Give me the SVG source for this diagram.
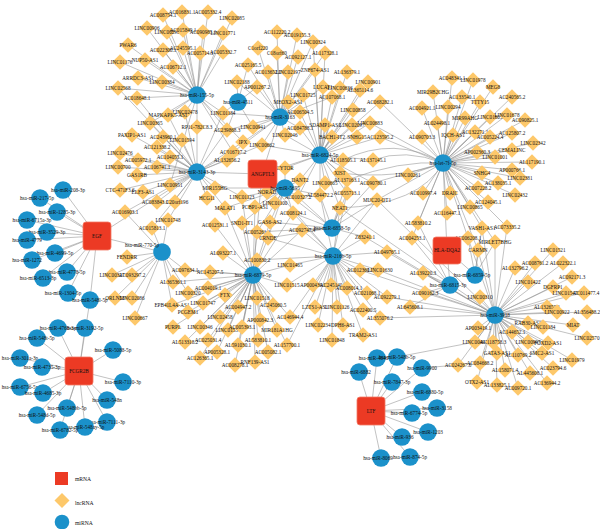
<svg xmlns="http://www.w3.org/2000/svg" xmlns:xlink="http://www.w3.org/1999/xlink" width="600" height="529" viewBox="0 0 600 529">
<style>
.e{stroke:#8f8f8f;stroke-width:0.55;fill:none;stroke-linecap:round}
text{font-family:"Liberation Serif","Times New Roman",serif;font-size:5.2px;fill:#111;text-anchor:middle}
.lg{text-anchor:start;font-size:5.6px}
.bx{fill:#EC3A24;stroke:#F47A66;stroke-width:0.8}
</style>
<defs>
<path id="dm" d="M0-7.8L7.8 0L0 7.8L-7.8 0Z" fill="#FDC86A"/>
<circle id="cm" r="8.8" fill="#1B91CA"/>
</defs>
<rect width="600" height="529" fill="#fff"/>
<g id="connectors" class="e">
<path d="M197 95L182 12M197 95L163 15M197 95L147 28M197 95L167 32M197 95L183 30M197 95L128 45M197 95L163 50M197 95L183 48M197 95L145 60M197 95L120 62M197 95L173 67M197 95L138 78M197 95L162 82M197 95L118 88M197 95L137 98M197 95L208 12M197 95L232 18M197 95L203 32M197 95L223 33M197 95L200 53M197 95L223 52M197 95L185 112M197 95L168 115M197 95L223 113M197 95L227 130M197 95L197 127M197 95L150 123M197 95L243 142M197 95L233 152M197 95L170 185"/>
<path d="M197 172L150 123M197 172L132 135M197 172L163 137M197 172L182 140M197 172L157 147M197 172L120 153M197 172L170 157M197 172L138 160M197 172L157 167M197 172L118 167M197 172L137 175M197 172L170 185M197 172L120 190M197 172L143 192M197 172L157 202M197 172L173 202M197 172L207 198M197 172L215 188M197 172L125 212M197 172L168 220M197 172L152 228M197 172L233 152M197 172L227 160M197 172L243 142M197 172L197 127M197 172L168 115M197 172L185 112M197 172L223 113M197 172L227 130M197 172L225 208M197 172L242 197M197 172L118 88M197 172L137 98M197 172L262 145M197 172L97 236M197 172L262 174"/>
<path d="M238 102L237 82M238 102L248 65M238 102L257 87M238 102L223 113M238 102L253 127M238 102L227 130"/>
<path d="M280 117L277 32M280 117L297 35M280 117L313 42M280 117L258 48M280 117L277 53M280 117L298 57M280 117L325 53M280 117L248 65M280 117L268 72M280 117L288 72M280 117L315 70M280 117L237 82M280 117L257 87M280 117L303 95M280 117L288 102M280 117L300 112M280 117L253 127M280 117L285 135M280 117L300 128M280 117L262 145M280 117L227 130M280 117L223 113M280 117L243 142M280 117L233 152M280 117L323 87M280 117L332 97M280 117L262 174"/>
<path d="M320 155L323 87M320 155L347 72M320 155L368 82M320 155L340 88M320 155L360 90M320 155L380 102M320 155L332 97M320 155L353 110M320 155L370 123M320 155L325 125M320 155L352 125M320 155L332 137M320 155L357 137M320 155L380 137M320 155L343 160M320 155L373 160M320 155L285 168M320 155L340 173M320 155L300 180M320 155L347 180M320 155L325 183M320 155L373 183M320 155L303 95M320 155L300 112M320 155L300 128M320 155L285 135M320 155L262 145M320 155L340 208M320 155L320 195M320 155L347 193M320 155L298 197M320 155L262 174M320 155L313 42M320 155L325 53M320 155L315 70"/>
<path d="M443 163L452 78M443 163L473 80M443 163L493 87M443 163L433 92M443 163L462 97M443 163L480 102M443 163L512 97M443 163L422 108M443 163L448 107M443 163L465 118M443 163L490 117M443 163L507 115M443 163L525 120M443 163L437 123M443 163L422 137M443 163L453 135M443 163L475 132M443 163L490 137M443 163L512 133M443 163L533 143M443 163L477 152M443 163L512 150M443 163L495 157M443 163L532 162M443 163L512 170M443 163L482 173M443 163L408 175M443 163L520 178M443 163L498 183M443 163L515 195M443 163L478 188M443 163L423 193M443 163L450 193M443 163L488 202M443 163L470 207M443 163L447 213M443 163L418 223M443 163L482 228M443 163L507 227M443 163L412 238M443 163L468 238M443 163L495 242M443 163L478 250M443 163L447 250M443 163L380 137M443 163L380 102M443 163L370 123M443 163L373 183M443 163L377 200"/>
<path d="M443 163Q395 135 343 160M443 163Q405 148 373 160M443 163Q398 180 340 173M443 163Q400 160 347 180M443 163Q420 205 340 208"/>
<path d="M285 188L267 192M285 188L242 197M285 188L255 207M285 188L275 203M285 188L298 197M285 188L293 213M285 188L270 222M285 188L300 180M285 188L285 168M285 188L257 232M285 188L268 238M285 188L215 188M285 188L225 208M285 188L242 223M285 188L320 195M285 188L262 174"/>
<path d="M332 228L320 195M332 228L347 193M332 228L377 200M332 228L340 208M332 228L302 230M332 228L365 237M332 228L293 213M332 228L270 222M332 228L268 238M332 228L298 197M332 228L257 232M332 228L347 180M332 228L373 183M332 228L262 174"/>
<path d="M333 256L387 252M333 256L290 265M333 256L360 270M333 256L378 270M333 256L287 285M333 256L315 285M333 256L330 285M333 256L347 288M333 256L367 293M333 256L387 297M333 256L315 307M333 256L337 307M333 256L363 310M333 256L380 318M333 256L318 325M333 256L343 325M333 256L332 340M333 256L363 335M333 256L302 230M333 256L365 237M333 256L340 208M333 256L320 195M333 256L347 193M333 256L377 200M333 256L293 213M333 256L268 238M333 256L257 260M333 256L262 174M333 256L290 317M333 256L287 345"/>
<path d="M253 275L242 223M253 275L215 225M253 275L257 232M253 275L268 238M253 275L223 253M253 275L257 260M253 275L210 272M253 275L173 282M253 275L185 270M253 275L188 293M253 275L208 288M253 275L225 295M253 275L172 305M253 275L188 312M253 275L203 303M253 275L238 307M253 275L257 298M253 275L273 305M253 275L173 327M253 275L200 327M253 275L220 317M253 275L228 330M253 275L242 327M253 275L260 320M253 275L277 330M253 275L290 317M253 275L258 340M253 275L185 342M253 275L208 340M253 275L238 345M253 275L287 345M253 275L217 352M253 275L268 352M253 275L200 358M253 275L235 365M253 275L255 362M253 275L290 265M253 275L287 285M253 275L302 230M253 275L270 222M253 275L225 208M253 275L255 207M253 275L262 174M253 275L293 213M253 275L242 197"/>
<path d="M162 252L127 257M162 252L112 275M162 252L132 275M162 252L115 298M162 252L132 298M162 252L135 318M162 252L173 282M162 252L185 270M162 252L152 228M162 252L168 220M162 252L125 212M162 252L172 305M162 252L188 293M162 252L97 236"/>
<path d="M475 275L447 250M475 275L478 250M475 275L495 242M475 275L468 238M475 275L482 228M450 285L447 250M450 285L423 273M450 285L412 238M450 285L418 223M450 285L410 307M450 285L425 293"/>
<path d="M495 315L553 250M495 315L563 263M495 315L535 263M495 315L515 268M495 315L572 277M495 315L528 282M495 315L553 287M495 315L567 293M495 315L582 293M495 315L480 297M495 315L410 307M495 315L547 307M495 315L557 312M495 315L587 312M495 315L478 328M495 315L528 323M495 315L543 327M495 315L573 325M495 315L512 332M495 315L475 342M495 315L493 342M495 315L528 342M495 315L548 343M495 315L587 338M495 315L497 353M495 315L518 355M495 315L542 353M495 315L572 360M495 315L458 365M495 315L480 363M495 315L505 370M495 315L530 373M495 315L553 368M495 315L477 382M495 315L497 385M495 315L518 388M495 315L547 383M495 315L423 273M495 315L425 293M495 315L478 250M495 315L495 242M495 315L482 228M495 315L507 227M495 315L468 238M495 315L387 297M495 315L380 318M495 315L387 252M495 315L378 270M495 315L360 270M495 315L340 208M495 315L377 200M495 315L365 237"/>
<path d="M371 411L359 372M371 411L377 358M371 411L397 357M371 411L392 382M371 411L422 368M371 411L422 392M371 411L437 408M371 411L412 413M371 411L428 432M371 411L402 437M371 411L410 457M371 411L381 458M397 357L475 342M422 368L458 365"/>
<path d="M97 236L63 190M97 236L40 198M97 236L57 212M97 236L27 220M97 236L47 232M97 236L27 240M97 236L55 253M97 236L32 260M97 236L67 272M97 236L43 278M97 236L68 293M97 236L90 300"/>
<path d="M79 371L90 300M79 371L85 328M79 371L58 328M79 371L37 338M79 371L113 350M79 371L20 358M79 371L42 367M79 371L123 382M79 371L20 387M79 371L43 393M79 371L107 400M79 371L67 408M79 371L37 415M79 371L107 422M79 371L85 427M79 371L60 430"/>
</g>
<g id="lncRNA-nodes">
<g id="AC016831.1"><use href="#dm" x="182" y="12"/><text x="182" y="14">AC016831.1</text></g>
<g id="AC008754.1"><use href="#dm" x="163" y="15"/><text x="163" y="17">AC008754.1</text></g>
<g id="LINC00906"><use href="#dm" x="147" y="28"/><text x="147" y="30">LINC00906</text></g>
<g id="LINC00290"><use href="#dm" x="167" y="32"/><text x="167" y="34">LINC00290</text></g>
<g id="AC015849.1"><use href="#dm" x="183" y="30"/><text x="183" y="32">AC015849.1</text></g>
<g id="PWAR6"><use href="#dm" x="128" y="45"/><text x="128" y="47">PWAR6</text></g>
<g id="AC022306.1"><use href="#dm" x="163" y="50"/><text x="163" y="52">AC022306.1</text></g>
<g id="AC245595.1"><use href="#dm" x="183" y="48"/><text x="183" y="50">AC245595.1</text></g>
<g id="NUP50-AS1"><use href="#dm" x="145" y="60"/><text x="145" y="62">NUP50-AS1</text></g>
<g id="LINC01176"><use href="#dm" x="120" y="62"/><text x="120" y="64">LINC01176</text></g>
<g id="AC106712.1"><use href="#dm" x="173" y="67"/><text x="173" y="69">AC106712.1</text></g>
<g id="ARRDC3-AS1"><use href="#dm" x="138" y="78"/><text x="138" y="80">ARRDC3-AS1</text></g>
<g id="LINC00384"><use href="#dm" x="162" y="82"/><text x="162" y="84">LINC00384</text></g>
<g id="LINC02568"><use href="#dm" x="118" y="88"/><text x="118" y="90">LINC02568</text></g>
<g id="AC018648.1"><use href="#dm" x="137" y="98"/><text x="137" y="100">AC018648.1</text></g>
<g id="AC005332.4"><use href="#dm" x="208" y="12"/><text x="208" y="14">AC005332.4</text></g>
<g id="LINC02085"><use href="#dm" x="232" y="18"/><text x="232" y="20">LINC02085</text></g>
<g id="AC090985.1"><use href="#dm" x="203" y="32"/><text x="203" y="34">AC090985.1</text></g>
<g id="LINC01771"><use href="#dm" x="223" y="33"/><text x="223" y="35">LINC01771</text></g>
<g id="AC005714.1"><use href="#dm" x="200" y="53"/><text x="200" y="55">AC005714.1</text></g>
<g id="AC005332.7"><use href="#dm" x="223" y="52"/><text x="223" y="54">AC005332.7</text></g>
<g id="LINC02478"><use href="#dm" x="185" y="112"/><text x="185" y="114">LINC02478</text></g>
<g id="MAPKAPK5-AS1"><use href="#dm" x="168" y="115"/><text x="168" y="117">MAPKAPK5-AS1</text></g>
<g id="LINC01184"><use href="#dm" x="223" y="113"/><text x="223" y="115">LINC01184</text></g>
<g id="AC239868.3"><use href="#dm" x="227" y="130"/><text x="227" y="132">AC239868.3</text></g>
<g id="RP11-782C8.3"><use href="#dm" x="197" y="127"/><text x="197" y="129">RP11-782C8.3</text></g>
<g id="LINC00365"><use href="#dm" x="150" y="123"/><text x="150" y="125">LINC00365</text></g>
<g id="PAXIP1-AS1"><use href="#dm" x="132" y="135"/><text x="132" y="137">PAXIP1-AS1</text></g>
<g id="AC243960.1"><use href="#dm" x="163" y="137"/><text x="163" y="139">AC243960.1</text></g>
<g id="LINC01594"><use href="#dm" x="182" y="140"/><text x="182" y="142">LINC01594</text></g>
<g id="AC121338.2"><use href="#dm" x="157" y="147"/><text x="157" y="149">AC121338.2</text></g>
<g id="LINC02476"><use href="#dm" x="120" y="153"/><text x="120" y="155">LINC02476</text></g>
<g id="AC104055.1"><use href="#dm" x="170" y="157"/><text x="170" y="159">AC104055.1</text></g>
<g id="AC005972.1"><use href="#dm" x="138" y="160"/><text x="138" y="162">AC005972.1</text></g>
<g id="AC106741.1"><use href="#dm" x="157" y="167"/><text x="157" y="169">AC106741.1</text></g>
<g id="LINC00700"><use href="#dm" x="118" y="167"/><text x="118" y="169">LINC00700</text></g>
<g id="GAS1RB"><use href="#dm" x="137" y="175"/><text x="137" y="177">GAS1RB</text></g>
<g id="LINC00951"><use href="#dm" x="170" y="185"/><text x="170" y="187">LINC00951</text></g>
<g id="CTC-471F3.6"><use href="#dm" x="120" y="190"/><text x="120" y="192">CTC-471F3.6</text></g>
<g id="ELF3-AS1"><use href="#dm" x="143" y="192"/><text x="143" y="194">ELF3-AS1</text></g>
<g id="AC083843.1"><use href="#dm" x="157" y="202"/><text x="155" y="204">AC083843.1</text></g>
<g id="C20orf196"><use href="#dm" x="175" y="202"/><text x="177" y="204">C20orf196</text></g>
<g id="HCG11"><use href="#dm" x="207" y="198"/><text x="207" y="200">HCG11</text></g>
<g id="MIR155HG"><use href="#dm" x="215" y="188"/><text x="215" y="190">MIR155HG</text></g>
<g id="AC016903.1"><use href="#dm" x="125" y="212"/><text x="125" y="214">AC016903.1</text></g>
<g id="LINC01748"><use href="#dm" x="168" y="220"/><text x="168" y="222">LINC01748</text></g>
<g id="AC015813.1"><use href="#dm" x="152" y="228"/><text x="152" y="230">AC015813.1</text></g>
<g id="AC016717.2"><use href="#dm" x="233" y="152"/><text x="233" y="154">AC016717.2</text></g>
<g id="AL132656.2"><use href="#dm" x="227" y="160"/><text x="227" y="162">AL132656.2</text></g>
<g id="IPX"><use href="#dm" x="243" y="142"/><text x="243" y="144">IPX</text></g>
<g id="AC112220.2"><use href="#dm" x="277" y="32"/><text x="277" y="34">AC112220.2</text></g>
<g id="AC019155.3"><use href="#dm" x="297" y="35"/><text x="297" y="37">AC019155.3</text></g>
<g id="LINC00324"><use href="#dm" x="313" y="42"/><text x="313" y="44">LINC00324</text></g>
<g id="C1orf220"><use href="#dm" x="258" y="48"/><text x="258" y="50">C1orf220</text></g>
<g id="C18orf60"><use href="#dm" x="277" y="53"/><text x="277" y="55">C18orf60</text></g>
<g id="AC092127.1"><use href="#dm" x="298" y="57"/><text x="298" y="59">AC092127.1</text></g>
<g id="AL117328.1"><use href="#dm" x="325" y="53"/><text x="325" y="55">AL117328.1</text></g>
<g id="AC025165.5"><use href="#dm" x="248" y="65"/><text x="248" y="67">AC025165.5</text></g>
<g id="AC013652.1"><use href="#dm" x="268" y="72"/><text x="268" y="74">AC013652.1</text></g>
<g id="LINC02197"><use href="#dm" x="288" y="72"/><text x="288" y="74">LINC02197</text></g>
<g id="ZNF674-AS1"><use href="#dm" x="315" y="70"/><text x="315" y="72">ZNF674-AS1</text></g>
<g id="LINC02188"><use href="#dm" x="237" y="82"/><text x="237" y="84">LINC02188</text></g>
<g id="AP001267.2"><use href="#dm" x="257" y="87"/><text x="257" y="89">AP001267.2</text></g>
<g id="LINC01725"><use href="#dm" x="303" y="95"/><text x="303" y="97">LINC01725</text></g>
<g id="MEOX2-AS1"><use href="#dm" x="288" y="102"/><text x="288" y="104">MEOX2-AS1</text></g>
<g id="AC006504.5"><use href="#dm" x="300" y="112"/><text x="300" y="114">AC006504.5</text></g>
<g id="LINC00941"><use href="#dm" x="253" y="127"/><text x="253" y="129">LINC00941</text></g>
<g id="LINC02046"><use href="#dm" x="285" y="135"/><text x="285" y="137">LINC02046</text></g>
<g id="AC084788.1"><use href="#dm" x="300" y="128"/><text x="300" y="130">AC084788.1</text></g>
<g id="LINC00662"><use href="#dm" x="262" y="145"/><text x="262" y="147">LINC00662</text></g>
<g id="LUCAT1"><use href="#dm" x="323" y="87"/><text x="323" y="89">LUCAT1</text></g>
<g id="AL136379.1"><use href="#dm" x="347" y="72"/><text x="347" y="74">AL136379.1</text></g>
<g id="LINC00901"><use href="#dm" x="368" y="82"/><text x="368" y="84">LINC00901</text></g>
<g id="LINC00636"><use href="#dm" x="340" y="88"/><text x="340" y="90">LINC00636</text></g>
<g id="AL365114.6"><use href="#dm" x="360" y="90"/><text x="360" y="92">AL365114.6</text></g>
<g id="AC068282.1"><use href="#dm" x="380" y="102"/><text x="380" y="104">AC068282.1</text></g>
<g id="AC107068.1"><use href="#dm" x="332" y="97"/><text x="332" y="99">AC107068.1</text></g>
<g id="LINC00858"><use href="#dm" x="353" y="110"/><text x="353" y="112">LINC00858</text></g>
<g id="LINC00683"><use href="#dm" x="370" y="123"/><text x="370" y="125">LINC00683</text></g>
<g id="SDAMP1-AS1"><use href="#dm" x="325" y="125"/><text x="325" y="127">SDAMP1-AS1</text></g>
<g id="LINC02097"><use href="#dm" x="352" y="125"/><text x="352" y="127">LINC02097</text></g>
<g id="BACH1-IT2"><use href="#dm" x="332" y="137"/><text x="332" y="139">BACH1-IT2</text></g>
<g id="SNHG15"><use href="#dm" x="357" y="137"/><text x="357" y="139">SNHG15</text></g>
<g id="AC123595.2"><use href="#dm" x="380" y="137"/><text x="380" y="139">AC123595.2</text></g>
<g id="AL118505.1"><use href="#dm" x="343" y="160"/><text x="343" y="162">AL118505.1</text></g>
<g id="AL137145.1"><use href="#dm" x="373" y="160"/><text x="373" y="162">AL137145.1</text></g>
<g id="CYTOR"><use href="#dm" x="285" y="168"/><text x="285" y="170">CYTOR</text></g>
<g id="XIST"><use href="#dm" x="340" y="173"/><text x="340" y="175">XIST</text></g>
<g id="DANT2"><use href="#dm" x="300" y="180"/><text x="300" y="182">DANT2</text></g>
<g id="AL137163.1"><use href="#dm" x="347" y="180"/><text x="347" y="182">AL137163.1</text></g>
<g id="LINC00665"><use href="#dm" x="325" y="183"/><text x="325" y="185">LINC00665</text></g>
<g id="AC090780.1"><use href="#dm" x="373" y="183"/><text x="373" y="185">AC090780.1</text></g>
<g id="NORAD"><use href="#dm" x="267" y="192"/><text x="267" y="194">NORAD</text></g>
<g id="LINC01123"><use href="#dm" x="242" y="197"/><text x="242" y="199">LINC01123</text></g>
<g id="PCBP1-AS1"><use href="#dm" x="255" y="207"/><text x="255" y="209">PCBP1-AS1</text></g>
<g id="LINC01100"><use href="#dm" x="275" y="203"/><text x="275" y="205">LINC01100</text></g>
<g id="AC010327.2"><use href="#dm" x="298" y="197"/><text x="298" y="199">AC010327.2</text></g>
<g id="AC008124.1"><use href="#dm" x="293" y="213"/><text x="293" y="215">AC008124.1</text></g>
<g id="GAS6-AS2"><use href="#dm" x="270" y="222"/><text x="270" y="224">GAS6-AS2</text></g>
<g id="MALAT1"><use href="#dm" x="225" y="208"/><text x="225" y="210">MALAT1</text></g>
<g id="AL584472.2"><use href="#dm" x="320" y="195"/><text x="320" y="197">AL584472.2</text></g>
<g id="AC055713.1"><use href="#dm" x="347" y="193"/><text x="347" y="195">AC055713.1</text></g>
<g id="MUC20-OT1"><use href="#dm" x="377" y="200"/><text x="377" y="202">MUC20-OT1</text></g>
<g id="NEAT1"><use href="#dm" x="340" y="208"/><text x="340" y="210">NEAT1</text></g>
<g id="AC092747.4"><use href="#dm" x="302" y="230"/><text x="302" y="232">AC092747.4</text></g>
<g id="Z83241.1"><use href="#dm" x="365" y="237"/><text x="365" y="239">Z83241.1</text></g>
<g id="AL049765.1"><use href="#dm" x="387" y="252"/><text x="387" y="254">AL049765.1</text></g>
<g id="LINC01465"><use href="#dm" x="290" y="265"/><text x="290" y="267">LINC01465</text></g>
<g id="AC012360.3"><use href="#dm" x="360" y="270"/><text x="360" y="272">AC012360.3</text></g>
<g id="LINC01630"><use href="#dm" x="378" y="270"/><text x="380" y="272">LINC01630</text></g>
<g id="LINC01515"><use href="#dm" x="287" y="285"/><text x="287" y="287">LINC01515</text></g>
<g id="AP000439.3"><use href="#dm" x="313" y="285"/><text x="313" y="287">AP000439.3</text></g>
<g id="AC245140.1"><use href="#dm" x="331" y="285"/><text x="333" y="287">AC245140.1</text></g>
<g id="AC008014.1"><use href="#dm" x="347" y="288"/><text x="349" y="290">AC008014.1</text></g>
<g id="AC021068.1"><use href="#dm" x="367" y="293"/><text x="367" y="295">AC021068.1</text></g>
<g id="AC092279.1"><use href="#dm" x="387" y="297"/><text x="387" y="299">AC092279.1</text></g>
<g id="LZTS1-AS1"><use href="#dm" x="315" y="307"/><text x="315" y="309">LZTS1-AS1</text></g>
<g id="LINC01126"><use href="#dm" x="337" y="307"/><text x="337" y="309">LINC01126</text></g>
<g id="AC022400.5"><use href="#dm" x="363" y="310"/><text x="363" y="312">AC022400.5</text></g>
<g id="AL355076.2"><use href="#dm" x="380" y="318"/><text x="380" y="320">AL355076.2</text></g>
<g id="LINC02234"><use href="#dm" x="318" y="325"/><text x="318" y="327">LINC02234</text></g>
<g id="DPH6-AS1"><use href="#dm" x="343" y="325"/><text x="343" y="327">DPH6-AS1</text></g>
<g id="TRAM2-AS1"><use href="#dm" x="363" y="335"/><text x="363" y="337">TRAM2-AS1</text></g>
<g id="LINC01848"><use href="#dm" x="332" y="340"/><text x="332" y="342">LINC01848</text></g>
<g id="SND1-IT1"><use href="#dm" x="242" y="223"/><text x="242" y="225">SND1-IT1</text></g>
<g id="AC012531.1"><use href="#dm" x="215" y="225"/><text x="215" y="227">AC012531.1</text></g>
<g id="AC005261.1"><use href="#dm" x="257" y="232"/><text x="257" y="234">AC005261.1</text></g>
<g id="CRNDE"><use href="#dm" x="268" y="238"/><text x="268" y="240">CRNDE</text></g>
<g id="AL093227.1"><use href="#dm" x="223" y="253"/><text x="223" y="255">AL093227.1</text></g>
<g id="AC100830.2"><use href="#dm" x="257" y="260"/><text x="257" y="262">AC100830.2</text></g>
<g id="AC145207.5"><use href="#dm" x="210" y="272"/><text x="210" y="274">AC145207.5</text></g>
<g id="AL365361.1"><use href="#dm" x="173" y="282"/><text x="173" y="284">AL365361.1</text></g>
<g id="AC097634.1"><use href="#dm" x="185" y="270"/><text x="185" y="272">AC097634.1</text></g>
<g id="LINC00320"><use href="#dm" x="188" y="293"/><text x="188" y="295">LINC00320</text></g>
<g id="AC004019.1"><use href="#dm" x="208" y="288"/><text x="208" y="290">AC004019.1</text></g>
<g id="FTX"><use href="#dm" x="225" y="295"/><text x="225" y="297">FTX</text></g>
<g id="EPB41L4A-AS1"><use href="#dm" x="172" y="305"/><text x="172" y="307">EPB41L4A-AS1</text></g>
<g id="PCGEM1"><use href="#dm" x="188" y="312"/><text x="188" y="314">PCGEM1</text></g>
<g id="LINC01747"><use href="#dm" x="203" y="303"/><text x="203" y="305">LINC01747</text></g>
<g id="AC004947.2"><use href="#dm" x="238" y="307"/><text x="238" y="309">AC004947.2</text></g>
<g id="LINC01518"><use href="#dm" x="257" y="298"/><text x="257" y="300">LINC01518</text></g>
<g id="AC245060.5"><use href="#dm" x="273" y="305"/><text x="273" y="307">AC245060.5</text></g>
<g id="PURPL"><use href="#dm" x="173" y="327"/><text x="173" y="329">PURPL</text></g>
<g id="LINC00346"><use href="#dm" x="200" y="327"/><text x="200" y="329">LINC00346</text></g>
<g id="LINC02458"><use href="#dm" x="220" y="317"/><text x="220" y="319">LINC02458</text></g>
<g id="LINC01537"><use href="#dm" x="228" y="330"/><text x="228" y="332">LINC01537</text></g>
<g id="AC005393.1"><use href="#dm" x="242" y="327"/><text x="242" y="329">AC005393.1</text></g>
<g id="AP000842.3"><use href="#dm" x="260" y="320"/><text x="260" y="322">AP000842.3</text></g>
<g id="MIR181A1HG"><use href="#dm" x="277" y="330"/><text x="277" y="332">MIR181A1HG</text></g>
<g id="AC146944.4"><use href="#dm" x="290" y="317"/><text x="290" y="319">AC146944.4</text></g>
<g id="AL583810.1"><use href="#dm" x="258" y="340"/><text x="258" y="342">AL583810.1</text></g>
<g id="AL513318.2"><use href="#dm" x="185" y="342"/><text x="185" y="344">AL513318.2</text></g>
<g id="AC025031.4"><use href="#dm" x="208" y="340"/><text x="208" y="342">AC025031.4</text></g>
<g id="AL591030.1"><use href="#dm" x="238" y="345"/><text x="238" y="347">AL591030.1</text></g>
<g id="AL157700.1"><use href="#dm" x="287" y="345"/><text x="287" y="347">AL157700.1</text></g>
<g id="AP005328.1"><use href="#dm" x="217" y="352"/><text x="217" y="354">AP005328.1</text></g>
<g id="AC005082.1"><use href="#dm" x="268" y="352"/><text x="268" y="354">AC005082.1</text></g>
<g id="AC126365.1"><use href="#dm" x="200" y="358"/><text x="200" y="360">AC126365.1</text></g>
<g id="AC008278.1"><use href="#dm" x="235" y="365"/><text x="235" y="367">AC008278.1</text></g>
<g id="RNF139-AS1"><use href="#dm" x="255" y="362"/><text x="255" y="364">RNF139-AS1</text></g>
<g id="FENDRR"><use href="#dm" x="127" y="257"/><text x="127" y="259">FENDRR</text></g>
<g id="LINC00327"><use href="#dm" x="112" y="275"/><text x="112" y="277">LINC00327</text></g>
<g id="AC093297.2"><use href="#dm" x="132" y="275"/><text x="132" y="277">AC093297.2</text></g>
<g id="ORLN58"><use href="#dm" x="115" y="298"/><text x="115" y="300">ORLN58</text></g>
<g id="LINC02086"><use href="#dm" x="132" y="298"/><text x="132" y="300">LINC02086</text></g>
<g id="LINC00667"><use href="#dm" x="135" y="318"/><text x="135" y="320">LINC00667</text></g>
<g id="AC048341.1"><use href="#dm" x="452" y="78"/><text x="452" y="80">AC048341.1</text></g>
<g id="LINC01978"><use href="#dm" x="473" y="80"/><text x="473" y="82">LINC01978</text></g>
<g id="MEG8"><use href="#dm" x="493" y="87"/><text x="493" y="89">MEG8</text></g>
<g id="MIR29B2CHG"><use href="#dm" x="433" y="92"/><text x="433" y="94">MIR29B2CHG</text></g>
<g id="AC133540.1"><use href="#dm" x="462" y="97"/><text x="462" y="99">AC133540.1</text></g>
<g id="TTTY15"><use href="#dm" x="480" y="102"/><text x="480" y="104">TTTY15</text></g>
<g id="AC240565.2"><use href="#dm" x="512" y="97"/><text x="512" y="99">AC240565.2</text></g>
<g id="AC004921.1"><use href="#dm" x="422" y="108"/><text x="422" y="110">AC004921.1</text></g>
<g id="LINC00294"><use href="#dm" x="448" y="107"/><text x="448" y="109">LINC00294</text></g>
<g id="MIR99AHG"><use href="#dm" x="465" y="118"/><text x="465" y="120">MIR99AHG</text></g>
<g id="LINC01605"><use href="#dm" x="490" y="117"/><text x="490" y="119">LINC01605</text></g>
<g id="LINC01678"><use href="#dm" x="507" y="115"/><text x="507" y="117">LINC01678</text></g>
<g id="AC090825.1"><use href="#dm" x="525" y="120"/><text x="525" y="122">AC090825.1</text></g>
<g id="AL024498.1"><use href="#dm" x="437" y="123"/><text x="437" y="125">AL024498.1</text></g>
<g id="AL090703.3"><use href="#dm" x="422" y="137"/><text x="422" y="139">AL090703.3</text></g>
<g id="IQCH-AS1"><use href="#dm" x="453" y="135"/><text x="453" y="137">IQCH-AS1</text></g>
<g id="AC132271.1"><use href="#dm" x="475" y="132"/><text x="475" y="134">AC132271.1</text></g>
<g id="AC005224.4"><use href="#dm" x="490" y="137"/><text x="490" y="139">AC005224.4</text></g>
<g id="AC125807.2"><use href="#dm" x="512" y="133"/><text x="512" y="135">AC125807.2</text></g>
<g id="LINC02342"><use href="#dm" x="533" y="143"/><text x="533" y="145">LINC02342</text></g>
<g id="AP002360.3"><use href="#dm" x="477" y="152"/><text x="477" y="154">AP002360.3</text></g>
<g id="CEMALINC"><use href="#dm" x="512" y="150"/><text x="512" y="152">CEMALINC</text></g>
<g id="LINC01001"><use href="#dm" x="495" y="157"/><text x="495" y="159">LINC01001</text></g>
<g id="AL117190.1"><use href="#dm" x="532" y="162"/><text x="532" y="164">AL117190.1</text></g>
<g id="AP000766.1"><use href="#dm" x="512" y="170"/><text x="512" y="172">AP000766.1</text></g>
<g id="SNHG4"><use href="#dm" x="482" y="173"/><text x="482" y="175">SNHG4</text></g>
<g id="LINC00261"><use href="#dm" x="408" y="175"/><text x="408" y="177">LINC00261</text></g>
<g id="LINC02381"><use href="#dm" x="520" y="178"/><text x="520" y="180">LINC02381</text></g>
<g id="AC138035.1"><use href="#dm" x="498" y="183"/><text x="498" y="185">AC138035.1</text></g>
<g id="LINC02432"><use href="#dm" x="515" y="195"/><text x="515" y="197">LINC02432</text></g>
<g id="AC007228.2"><use href="#dm" x="478" y="188"/><text x="478" y="190">AC007228.2</text></g>
<g id="AC010997.4"><use href="#dm" x="423" y="193"/><text x="423" y="195">AC010997.4</text></g>
<g id="DRAIC"><use href="#dm" x="450" y="193"/><text x="450" y="195">DRAIC</text></g>
<g id="AC124045.1"><use href="#dm" x="488" y="202"/><text x="488" y="204">AC124045.1</text></g>
<g id="LINC00865"><use href="#dm" x="470" y="207"/><text x="470" y="209">LINC00865</text></g>
<g id="AC116447.1"><use href="#dm" x="447" y="213"/><text x="447" y="215">AC116447.1</text></g>
<g id="AL583810.2"><use href="#dm" x="418" y="223"/><text x="418" y="225">AL583810.2</text></g>
<g id="VASH1-AS1"><use href="#dm" x="482" y="228"/><text x="482" y="230">VASH1-AS1</text></g>
<g id="AC073335.2"><use href="#dm" x="507" y="227"/><text x="507" y="229">AC073335.2</text></g>
<g id="AC004253.1"><use href="#dm" x="412" y="238"/><text x="412" y="240">AC004253.1</text></g>
<g id="AC006208.1"><use href="#dm" x="468" y="238"/><text x="468" y="240">AC006208.1</text></g>
<g id="MIRLET7BHG"><use href="#dm" x="495" y="242"/><text x="495" y="244">MIRLET7BHG</text></g>
<g id="CARMN"><use href="#dm" x="478" y="250"/><text x="478" y="252">CARMN</text></g>
<g id="LINC01521"><use href="#dm" x="553" y="250"/><text x="553" y="252">LINC01521</text></g>
<g id="AL022322.1"><use href="#dm" x="563" y="263"/><text x="563" y="265">AL022322.1</text></g>
<g id="AC008761.2"><use href="#dm" x="535" y="263"/><text x="535" y="265">AC008761.2</text></g>
<g id="AL132796.2"><use href="#dm" x="515" y="268"/><text x="515" y="270">AL132796.2</text></g>
<g id="AC092171.3"><use href="#dm" x="572" y="277"/><text x="572" y="279">AC092171.3</text></g>
<g id="LINC01422"><use href="#dm" x="528" y="282"/><text x="528" y="284">LINC01422</text></g>
<g id="DGFRP1"><use href="#dm" x="553" y="287"/><text x="553" y="289">DGFRP1</text></g>
<g id="LINC01547"><use href="#dm" x="566" y="293"/><text x="565" y="295">LINC01547</text></g>
<g id="AC011477.4"><use href="#dm" x="584" y="293"/><text x="586" y="295">AC011477.4</text></g>
<g id="LINC00310"><use href="#dm" x="480" y="297"/><text x="480" y="299">LINC00310</text></g>
<g id="AL645608.1"><use href="#dm" x="410" y="307"/><text x="410" y="309">AL645608.1</text></g>
<g id="AL132655.1"><use href="#dm" x="547" y="307"/><text x="547" y="309">AL132655.1</text></g>
<g id="LINC00922"><use href="#dm" x="557" y="312"/><text x="557" y="314">LINC00922</text></g>
<g id="AL356488.2"><use href="#dm" x="587" y="312"/><text x="587" y="314">AL356488.2</text></g>
<g id="AP003419.1"><use href="#dm" x="478" y="328"/><text x="478" y="330">AP003419.1</text></g>
<g id="RAB30-AS1"><use href="#dm" x="528" y="323"/><text x="528" y="325">RAB30-AS1</text></g>
<g id="LINC01184b"><use href="#dm" x="543" y="327"/><text x="543" y="329">LINC01184</text></g>
<g id="MIAT"><use href="#dm" x="573" y="325"/><text x="573" y="327">MIAT</text></g>
<g id="AC144652.1"><use href="#dm" x="512" y="332"/><text x="512" y="334">AC144652.1</text></g>
<g id="LINC00494"><use href="#dm" x="475" y="342"/><text x="475" y="344">LINC00494</text></g>
<g id="AC118758.3"><use href="#dm" x="493" y="342"/><text x="493" y="344">AC118758.3</text></g>
<g id="LINC00997"><use href="#dm" x="528" y="342"/><text x="528" y="344">LINC00997</text></g>
<g id="FOXD2-AS1"><use href="#dm" x="548" y="343"/><text x="548" y="345">FOXD2-AS1</text></g>
<g id="LINC02570"><use href="#dm" x="587" y="338"/><text x="587" y="340">LINC02570</text></g>
<g id="GATA3-AS1"><use href="#dm" x="497" y="353"/><text x="497" y="355">GATA3-AS1</text></g>
<g id="AC110769.2"><use href="#dm" x="518" y="355"/><text x="518" y="357">AC110769.2</text></g>
<g id="SMC2-AS1"><use href="#dm" x="542" y="353"/><text x="542" y="355">SMC2-AS1</text></g>
<g id="LINC01979"><use href="#dm" x="572" y="360"/><text x="572" y="362">LINC01979</text></g>
<g id="AC024267.6"><use href="#dm" x="458" y="365"/><text x="458" y="367">AC024267.6</text></g>
<g id="AC084668.2"><use href="#dm" x="480" y="363"/><text x="480" y="365">AC084668.2</text></g>
<g id="AL158071.4"><use href="#dm" x="505" y="370"/><text x="505" y="372">AL158071.4</text></g>
<g id="AL445608.1"><use href="#dm" x="530" y="373"/><text x="530" y="375">AL445608.1</text></g>
<g id="AC023794.6"><use href="#dm" x="553" y="368"/><text x="553" y="370">AC023794.6</text></g>
<g id="OTX2-AS1"><use href="#dm" x="477" y="382"/><text x="477" y="384">OTX2-AS1</text></g>
<g id="AL133825.1"><use href="#dm" x="497" y="385"/><text x="497" y="387">AL133825.1</text></g>
<g id="AC009720.1"><use href="#dm" x="518" y="388"/><text x="518" y="390">AC009720.1</text></g>
<g id="AC136944.2"><use href="#dm" x="547" y="383"/><text x="547" y="385">AC136944.2</text></g>
<g id="AL139220.3"><use href="#dm" x="423" y="273"/><text x="423" y="275">AL139220.3</text></g>
<g id="AC090162.3"><use href="#dm" x="425" y="293"/><text x="425" y="295">AC090162.3</text></g>
</g>
<g id="mRNA-nodes">
<g id="ANGPTL3"><rect class="bx" x="248" y="160" width="29" height="28" rx="3"/><text x="262.5" y="176">ANGPTL3</text></g>
<g id="EGF"><rect class="bx" x="83" y="222" width="28" height="28" rx="3"/><text x="97" y="238">EGF</text></g>
<g id="HLA-DQA2"><rect class="bx" x="433" y="237" width="28" height="27" rx="3"/><text x="447" y="252">HLA-DQA2</text></g>
<g id="FCGR2B"><rect class="bx" x="65" y="357" width="28" height="28" rx="3"/><text x="79" y="373">FCGR2B</text></g>
<g id="LTF"><rect class="bx" x="357" y="397" width="28" height="28" rx="3"/><text x="371" y="413">LTF</text></g>
</g>
<g id="miRNA-nodes">
<g id="hsa-miR-155-5p"><use href="#cm" x="197" y="95"/><text x="197" y="97">hsa-miR-155-5p</text></g>
<g id="hsa-miR-4511"><use href="#cm" x="238" y="102"/><text x="238" y="104">hsa-miR-4511</text></g>
<g id="hsa-miR-3163"><use href="#cm" x="280" y="117"/><text x="280" y="119">hsa-miR-3163</text></g>
<g id="hsa-miR-6824-5p"><use href="#cm" x="320" y="155"/><text x="320" y="157">hsa-miR-6824-5p</text></g>
<g id="hsa-let-7f-5p"><use href="#cm" x="443" y="163"/><text x="443" y="165">hsa-let-7f-5p</text></g>
<g id="hsa-miR-3143-3p"><use href="#cm" x="197" y="172"/><text x="197" y="174">hsa-miR-3143-3p</text></g>
<g id="hsa-miR-5695"><use href="#cm" x="285" y="188"/><text x="285" y="190">hsa-miR-5695</text></g>
<g id="hsa-miR-6858-5p"><use href="#cm" x="332" y="228"/><text x="332" y="230">hsa-miR-6858-5p</text></g>
<g id="hsa-miR-216b-5p"><use href="#cm" x="333" y="256"/><text x="333" y="258">hsa-miR-216b-5p</text></g>
<g id="hsa-miR-6879-5p"><use href="#cm" x="253" y="275"/><text x="253" y="277">hsa-miR-6879-5p</text></g>
<g id="hsa-miR-770-5p"><use href="#cm" x="162" y="252"/><text x="142" y="247">hsa-miR-770-5p</text></g>
<g id="hsa-miR-6859-5p"><use href="#cm" x="475" y="275"/><text x="472" y="277">hsa-miR-6859-5p</text></g>
<g id="hsa-miR-6815-3p"><use href="#cm" x="450" y="285"/><text x="448" y="287">hsa-miR-6815-3p</text></g>
<g id="hsa-miR-3918"><use href="#cm" x="495" y="315"/><text x="495" y="317">hsa-miR-3918</text></g>
<g id="hsa-miR-208-3p"><use href="#cm" x="63" y="190"/><text x="68" y="192">hsa-miR-208-3p</text></g>
<g id="hsa-miR-217-5p"><use href="#cm" x="40" y="198"/><text x="37" y="200">hsa-miR-217-5p</text></g>
<g id="hsa-miR-1285-3p"><use href="#cm" x="57" y="212"/><text x="57" y="214">hsa-miR-1285-3p</text></g>
<g id="hsa-miR-6715a-3p"><use href="#cm" x="27" y="220"/><text x="32" y="222">hsa-miR-6715a-3p</text></g>
<g id="hsa-miR-3529-3p"><use href="#cm" x="47" y="232"/><text x="47" y="234">hsa-miR-3529-3p</text></g>
<g id="hsa-miR-4779"><use href="#cm" x="27" y="240"/><text x="27" y="242">hsa-miR-4779</text></g>
<g id="hsa-miR-4699-5p"><use href="#cm" x="55" y="253"/><text x="55" y="255">hsa-miR-4699-5p</text></g>
<g id="hsa-miR-1272"><use href="#cm" x="32" y="260"/><text x="27" y="262">hsa-miR-1272</text></g>
<g id="hsa-miR-4778-5p"><use href="#cm" x="67" y="272"/><text x="67" y="274">hsa-miR-4778-5p</text></g>
<g id="hsa-miR-6513-3p"><use href="#cm" x="43" y="278"/><text x="38" y="280">hsa-miR-6513-3p</text></g>
<g id="hsa-miR-1304-5p"><use href="#cm" x="68" y="293"/><text x="63" y="295">hsa-miR-1304-5p</text></g>
<g id="hsa-miR-548l-5p"><use href="#cm" x="90" y="300"/><text x="90" y="302">hsa-miR-548l-5p</text></g>
<g id="hsa-miR-3192-5p"><use href="#cm" x="85" y="328"/><text x="85" y="330">hsa-miR-3192-5p</text></g>
<g id="hsa-miR-4768-3p"><use href="#cm" x="58" y="328"/><text x="58" y="330">hsa-miR-4768-3p</text></g>
<g id="hsa-miR-548t-5p"><use href="#cm" x="37" y="338"/><text x="37" y="340">hsa-miR-548t-5p</text></g>
<g id="hsa-miR-5088-5p"><use href="#cm" x="113" y="350"/><text x="113" y="352">hsa-miR-5088-5p</text></g>
<g id="hsa-miR-301a-3p"><use href="#cm" x="20" y="358"/><text x="20" y="360">hsa-miR-301a-3p</text></g>
<g id="hsa-miR-4735-3p"><use href="#cm" x="42" y="367"/><text x="42" y="369">hsa-miR-4735-3p</text></g>
<g id="hsa-miR-7110-3p"><use href="#cm" x="123" y="382"/><text x="123" y="384">hsa-miR-7110-3p</text></g>
<g id="hsa-miR-6756-5p"><use href="#cm" x="20" y="387"/><text x="20" y="389">hsa-miR-6756-5p</text></g>
<g id="hsa-miR-4685-3p"><use href="#cm" x="43" y="393"/><text x="43" y="395">hsa-miR-4685-3p</text></g>
<g id="hsa-miR-548n"><use href="#cm" x="107" y="400"/><text x="107" y="402">hsa-miR-548n</text></g>
<g id="hsa-miR-548bb-5p"><use href="#cm" x="67" y="408"/><text x="67" y="410">hsa-miR-548bb-5p</text></g>
<g id="hsa-miR-548d-5p"><use href="#cm" x="37" y="415"/><text x="37" y="417">hsa-miR-548d-5p</text></g>
<g id="hsa-miR-7111-3p"><use href="#cm" x="107" y="422"/><text x="107" y="424">hsa-miR-7111-3p</text></g>
<g id="hsa-miR-548ay-5p"><use href="#cm" x="85" y="427"/><text x="85" y="429">hsa-miR-548ay-5p</text></g>
<g id="hsa-miR-6782-5p"><use href="#cm" x="60" y="430"/><text x="60" y="432">hsa-miR-6782-5p</text></g>
<g id="hsa-miR-6882"><use href="#cm" x="359" y="372"/><text x="356" y="374">hsa-miR-6882</text></g>
<g id="hsa-miR-4640-5p"><use href="#cm" x="377" y="358"/><text x="377" y="360">hsa-miR-4640-5p</text></g>
<g id="hsa-miR-548b-5p"><use href="#cm" x="397" y="357"/><text x="397" y="359">hsa-miR-548b-5p</text></g>
<g id="hsa-miR-7847-3p"><use href="#cm" x="392" y="382"/><text x="392" y="384">hsa-miR-7847-3p</text></g>
<g id="hsa-miR-9900"><use href="#cm" x="422" y="368"/><text x="422" y="370">hsa-miR-9900</text></g>
<g id="hsa-miR-6880-5p"><use href="#cm" x="422" y="392"/><text x="425" y="394">hsa-miR-6880-5p</text></g>
<g id="hsa-miR-3158"><use href="#cm" x="437" y="408"/><text x="437" y="410">hsa-miR-3158</text></g>
<g id="hsa-miR-6774-5p"><use href="#cm" x="412" y="413"/><text x="409" y="415">hsa-miR-6774-5p</text></g>
<g id="hsa-miR-1203"><use href="#cm" x="428" y="432"/><text x="428" y="434">hsa-miR-1203</text></g>
<g id="hsa-miR-936"><use href="#cm" x="402" y="437"/><text x="400" y="439">hsa-miR-936</text></g>
<g id="hsa-miR-874-5p"><use href="#cm" x="410" y="457"/><text x="410" y="459">hsa-miR-874-5p</text></g>
<g id="hsa-miR-8069"><use href="#cm" x="381" y="458"/><text x="378" y="460">hsa-miR-8069</text></g>
</g>
<g id="legend">
<rect x="55" y="472" width="13" height="13" fill="#EC3A24"/>
<text class="lg" x="75" y="481">mRNA</text>
<path d="M62 493L69.5 500.5L62 508L54.5 500.5Z" fill="#FDC86A"/>
<text class="lg" x="75" y="505">lncRNA</text>
<circle cx="62" cy="522" r="7.3" fill="#1B91CA"/>
<text class="lg" x="75" y="525">miRNA</text>
</g>
</svg>
